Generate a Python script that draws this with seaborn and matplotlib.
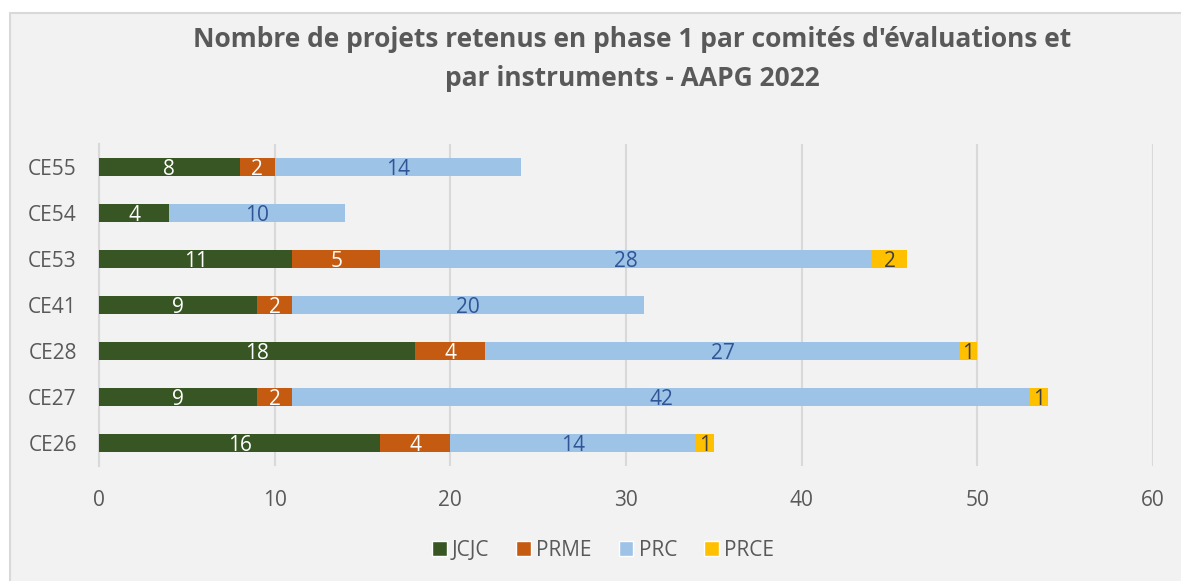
import numpy as np
import pandas as pd
import seaborn as sns
import matplotlib
matplotlib.use("Agg")
import matplotlib.pyplot as plt
from matplotlib.patches import Rectangle, Patch

comites = ["CE55", "CE54", "CE53", "CE41", "CE28", "CE27", "CE26"]
instruments = ["JCJC", "PRME", "PRC", "PRCE"]
jcjc = [8, 4, 11, 9, 18, 9, 16]
prme = [2, 0, 5, 2, 4, 2, 4]
prc = [14, 10, 28, 20, 27, 42, 14]
prce = [0, 0, 2, 0, 1, 1, 1]

couleurs = ["#375623", "#C55A11", "#9DC3E6", "#FFC000"]
couleurs_txt = ["white", "white", "#2F5597", "#404040"]

sns.set_style("white")
plt.rcParams["font.family"] = ["Open Sans", "DejaVu Sans"]

fig = plt.figure(figsize=(11.81, 5.81), dpi=100)
fig.patch.set_facecolor("white")
# fond gris du graphique
fig.patches.append(Rectangle((10 / 1181, -0.05), 1.2, 1 - 13 / 581 + 0.05,
                             transform=fig.transFigure, facecolor="#F2F2F2",
                             edgecolor="#D9D9D9", linewidth=1.5, zorder=-10))

ax = fig.add_axes([99 / 1181, 1 - 466 / 581, (1153 - 99) / 1181, 322 / 581])
ax.set_facecolor("none")

valeurs = np.array([jcjc, prme, prc, prce], dtype=float)
cumul = np.cumsum(valeurs, axis=0)

# barres empilées : on dessine les cumuls du plus long au plus court
for i in range(len(instruments) - 1, -1, -1):
    df = pd.DataFrame({"comite": comites, "total": cumul[i]})
    sns.barplot(data=df, x="total", y="comite", order=comites, color=couleurs[i],
                saturation=1, width=0.39, ax=ax, edgecolor="none", zorder=3)

for i in range(len(instruments)):
    for j, c in enumerate(comites):
        v = valeurs[i][j]
        if v > 0:
            ax.text(cumul[i][j] - v / 2, j + 0.05, f"{int(v)}", ha="center", va="center",
                    color=couleurs_txt[i], fontsize=15, zorder=5)

ax.set_xlim(0, 60)
ax.set_ylim(len(comites) - 0.5, -0.5)
ax.set_xticks(range(0, 61, 10))
ax.xaxis.grid(True, color="#D9D9D9", linewidth=1.5)
ax.set_axisbelow(True)
for s in ["top", "right", "bottom"]:
    ax.spines[s].set_visible(False)
ax.spines["left"].set_color("#D9D9D9")
ax.spines["left"].set_linewidth(1.5)
ax.tick_params(axis="both", length=0, labelsize=15, labelcolor="#595959")
ax.tick_params(axis="x", pad=17)
ax.tick_params(axis="y", pad=16)
ax.set_xlabel("")
ax.set_ylabel("")

fig.text(632 / 1181, 1 - 59 / 581,
         "Nombre de projets retenus en phase 1 par comités d'évaluations et\npar instruments - AAPG 2022",
         ha="center", va="center", fontsize=19, fontweight="bold", color="#595959",
         linespacing=1.6)

poignees = [Patch(facecolor=couleurs[i], label=instruments[i]) for i in range(4)]
fig.legend(handles=poignees, loc="center", bbox_to_anchor=(603 / 1181, 1 - 550 / 581),
           ncol=4, frameon=False, fontsize=15, labelcolor="#595959",
           handlelength=0.7, handleheight=0.7, handletextpad=0.25, columnspacing=1.3)

fig.savefig("out.png", dpi=100)
